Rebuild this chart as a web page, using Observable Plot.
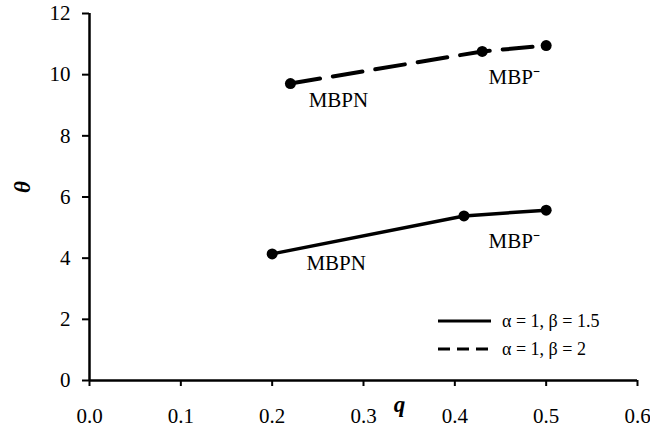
<!DOCTYPE html>
<html><head><meta charset="utf-8">
<script src="https://cdn.jsdelivr.net/npm/d3@7"></script>
<script src="https://cdn.jsdelivr.net/npm/@observablehq/plot@0.6"></script>
<style>
body{margin:0;background:#fff}
#chart{position:relative;width:650px;height:433px}
</style>
</head><body><div id="chart"></div>
<script>
// Data
const qBeta15 = [0.20, 0.41, 0.50];
const thetaBeta15 = [4.14, 5.38, 5.57];
const qBeta2 = [0.22, 0.43, 0.50];
const thetaBeta2 = [9.71, 10.76, 10.95];
const seriesNames = ["α = 1, β = 1.5", "α = 1, β = 2"];
const startLabel = "MBPN";
const endLabel = "MBP⁻";
const xTicks = [0, 0.1, 0.2, 0.3, 0.4, 0.5, 0.6];
const yTicks = [0, 2, 4, 6, 8, 10, 12];

const s15 = qBeta15.map((q, i) => ({q, theta: thetaBeta15[i], series: seriesNames[0]}));
const s2 = qBeta2.map((q, i) => ({q, theta: thetaBeta2[i], series: seriesNames[1]}));

const font = "'Liberation Serif', 'Times New Roman', serif";

const chart = Plot.plot({
  width: 650, height: 433,
  marginLeft: 89, marginRight: 13, marginTop: 13, marginBottom: 53,
  style: {fontFamily: font, fontSize: "21px", color: "#000", background: "#fff"},
  x: {domain: [0, 0.6]},
  y: {domain: [0, 12]},
  marks: [
    Plot.axisX({ticks: xTicks, tickFormat: d3.format(".1f"), tickSize: 6, tickPadding: 22, label: null, stroke: "#000", strokeWidth: 2, fontSize: 21}),
    Plot.axisY({ticks: yTicks, tickSize: 7, tickPadding: 12, label: null, stroke: "#000", strokeWidth: 2, fontSize: 21}),
    Plot.ruleX([0], {stroke: "#000", strokeWidth: 2.5}),
    Plot.ruleY([0], {stroke: "#000", strokeWidth: 2.5}),
    Plot.line(s15, {x: "q", y: "theta", stroke: "#000", strokeWidth: 3.5, curve: "linear"}),
    Plot.line(s2, {x: "q", y: "theta", stroke: "#000", strokeWidth: 4, strokeDasharray: "30,13", curve: "linear"}),
    Plot.dot([...s15, ...s2], {x: "q", y: "theta", r: 5.5, fill: "#000"}),
    Plot.text([s2[0]], {x: "q", y: "theta", text: () => startLabel, dx: 48, dy: 17, fontSize: 21}),
    Plot.text([s15[0]], {x: "q", y: "theta", text: () => startLabel, dx: 64, dy: 9, fontSize: 21}),
    Plot.text([s2[2]], {x: "q", y: "theta", text: () => endLabel, dx: -32, dy: 32, fontSize: 21}),
    Plot.text([s15[2]], {x: "q", y: "theta", text: () => endLabel, dx: -32, dy: 31, fontSize: 21}),
    Plot.text(["q"], {frameAnchor: "bottom", text: d => d, dx: 36, dy: 31, fontSize: 23, fontWeight: "bold", fontStyle: "italic"}),
    Plot.text(["θ"], {frameAnchor: "left", text: d => d, dx: -67, dy: -4, rotate: -90, fontSize: 23, fontWeight: "bold", fontStyle: "italic"})
  ]
});
document.getElementById("chart").appendChild(chart);

// Legend (inside the plot area, lower right)
const svg = d3.select(chart);
const lg = svg.append("g").attr("font-family", font).attr("font-size", 18).attr("text-anchor", "start");
seriesNames.forEach((name, i) => {
  const y = 321 + i * 28;
  lg.append("line").attr("x1", 438).attr("x2", 491).attr("y1", y).attr("y2", y)
    .attr("stroke", "#000").attr("stroke-width", 3)
    .attr("stroke-dasharray", i === 1 ? "12,7" : null);
  lg.append("text").attr("x", 502).attr("y", y).attr("dy", "0.35em").text(name);
});
</script>
</body></html>
